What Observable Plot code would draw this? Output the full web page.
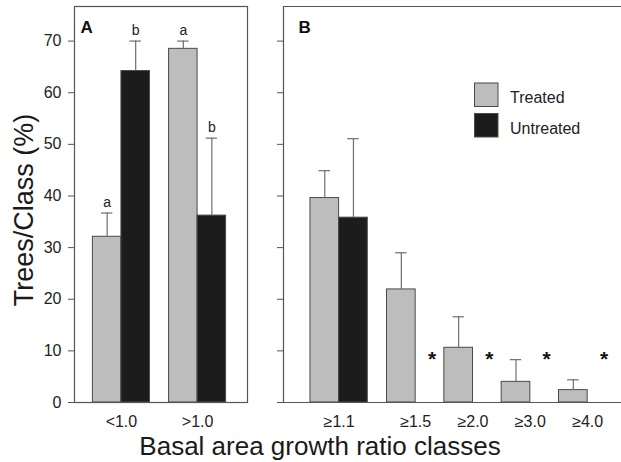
<!DOCTYPE html>
<html><head><meta charset="utf-8">
<script src="https://cdn.jsdelivr.net/npm/d3@7"></script>
<script src="https://cdn.jsdelivr.net/npm/@observablehq/plot@0.6"></script>
<style>
body{margin:0;background:#fff;}
#wrap{position:relative;width:621px;height:462px;overflow:hidden;font-family:"Liberation Sans",Arial,sans-serif;color:#1e1e1e;}
#wrap > *{position:absolute;top:0;}
</style></head><body><div id="wrap"></div>
<script>
// ---- data ----
const series = ["Treated", "Untreated"];
const seriesColors = ["#bdbdbd", "#1c1c1c"];
const yTicks = [0, 10, 20, 30, 40, 50, 60, 70];

const groupsA = ["<1.0", ">1.0"];
const treatedA = [32.1, 68.5];
const treatedA_se = [4.6, 1.5];
const untreatedA = [64.2, 36.2];
const untreatedA_se = [5.8, 15.0];
const lettersTreatedA = ["a", "a"];
const lettersUntreatedA = ["b", "b"];

const groupsB = ["≥1.1", "≥1.5", "≥2.0", "≥3.0", "≥4.0"];
const treatedB = [39.6, 21.9, 10.6, 4.0, 2.4];
const treatedB_se = [5.3, 7.1, 6.0, 4.3, 2.0];
const untreatedB = [35.8, null, null, null, null];
const untreatedB_se = [15.3, null, null, null, null];
const starLabel = "*";

// ---- layout helpers (bar-width units) ----
const GAP = 0.67;
const groupStart = i => 2 * i + (i > 0 ? GAP : 0);
function buildRows(groups, t, tse, u, use, lt, lu) {
  const rows = [];
  groups.forEach((g, i) => {
    const s = groupStart(i);
    rows.push({group: g, series: "Treated", value: t[i], se: tse[i], x1: s, x2: s + 1, xc: s + 0.5, letter: lt ? lt[i] : null});
    if (u[i] != null) rows.push({group: g, series: "Untreated", value: u[i], se: use[i], x1: s + 1, x2: s + 2, xc: s + 1.5, letter: lu ? lu[i] : null});
  });
  return rows;
}
const rowsA = buildRows(groupsA, treatedA, treatedA_se, untreatedA, untreatedA_se, lettersTreatedA, lettersUntreatedA);
const rowsB = buildRows(groupsB, treatedB, treatedB_se, untreatedB, untreatedB_se);
const starsB = groupsB.map((g, i) => ({group: g, x: groupStart(i) + 1.5, missing: untreatedB[i] == null})).filter(d => d.missing);
const STAR_LEVEL = 7;

const Y_MAX = 76.7;
const font = "Liberation Sans, Arial, sans-serif";
const ink = "#555";
const errInk = "#6e6e6e";

function barMarks(rows) {
  return [
    Plot.rect(rows, {x1: "x1", x2: "x2", y1: 0, y2: "value", fill: "series", stroke: "#4a4a4a", strokeWidth: 1}),
    Plot.ruleX(rows, {x: "xc", y1: "value", y2: d => d.value + d.se, stroke: errInk, strokeWidth: 1.2}),
    Plot.ruleY(rows, {y: d => d.value + d.se, x1: d => d.xc - 0.2, x2: d => d.xc + 0.2, stroke: errInk, strokeWidth: 1.2})
  ];
}

function ticksFor(groups) {
  const m = new Map(groups.map((g, i) => [groupStart(i) + 1, g]));
  return {values: [...m.keys()], format: v => m.get(v)};
}

const commonStyle = {fontFamily: font, fontSize: "16px", color: "#1e1e1e", background: "transparent", overflow: "visible"};
const colorScale = {domain: series, range: seriesColors};

// ---- Panel A ----
const tA = ticksFor(groupsA);
const plotA = Plot.plot({
  width: 250, height: 430,
  marginLeft: 74, marginRight: 3, marginTop: 6, marginBottom: 28,
  style: commonStyle,
  x: {domain: [-0.645, 5.42], axis: null},
  y: {domain: [0, Y_MAX], axis: null},
  color: colorScale,
  marks: [
    ...barMarks(rowsA),
    Plot.text(rowsA, {x: "xc", y: d => d.value + d.se, text: "letter", dy: -6, lineAnchor: "bottom", fontSize: 14, fill: "#222"}),
    Plot.frame({stroke: ink, strokeWidth: 1.2}),
    Plot.axisY({ticks: yTicks, tickSize: 6, tickPadding: 7, stroke: ink, fill: "#222", label: null}),
    Plot.axisX(tA.values, {tickSize: 0, tickPadding: 13, tickFormat: tA.format, fill: "#222", label: null}),
    Plot.text(["A"], {frameAnchor: "top-left", dx: 6, dy: 14, lineAnchor: "top", fontWeight: "bold", fontSize: 17, fill: "#111"})
  ]
});
plotA.style.left = "0px";

// ---- Panel B ----
const tB = ticksFor(groupsB);
const X_MIN_B = -0.94;
const plotB = Plot.plot({
  width: 381, height: 430,
  marginLeft: 43, marginRight: 0, marginTop: 6, marginBottom: 28,
  style: commonStyle,
  x: {domain: [X_MIN_B, 10.85], axis: null},
  y: {domain: [0, Y_MAX], axis: null},
  color: colorScale,
  marks: [
    ...barMarks(rowsB),
    Plot.text(starsB, {x: "x", y: STAR_LEVEL, text: () => starLabel, dx: 2, lineAnchor: "bottom", fontSize: 21, fontWeight: "bold", fill: "#111"}),
    Plot.ruleY([0, Y_MAX], {stroke: ink, strokeWidth: 1.2}),
    Plot.ruleX([X_MIN_B], {stroke: ink, strokeWidth: 1.2}),
    Plot.axisY({ticks: yTicks, tickSize: 6, tickFormat: () => "", stroke: ink, label: null}),
    Plot.axisX(tB.values, {tickSize: 0, tickPadding: 13, tickFormat: tB.format, fill: "#222", label: null}),
    Plot.text(["B"], {frameAnchor: "top-left", dx: 15, dy: 14, lineAnchor: "top", fontWeight: "bold", fontSize: 17, fill: "#111"})
  ]
});
plotB.style.left = "240px";

const wrap = document.getElementById("wrap");
wrap.appendChild(plotA);
wrap.appendChild(plotB);

// ---- titles & legend overlay ----
const svg = d3.create("svg").attr("width", 621).attr("height", 462)
  .style("pointer-events", "none").style("font-family", font);
svg.append("text").attr("transform", "translate(33,210) rotate(-90)")
  .attr("text-anchor", "middle").attr("font-size", 27).attr("fill", "#1a1a1a")
  .text("Trees/Class (%)");
svg.append("text").attr("x", 320).attr("y", 455)
  .attr("text-anchor", "middle").attr("font-size", 26).attr("fill", "#1a1a1a")
  .text("Basal area growth ratio classes");
const leg = svg.append("g").attr("transform", "translate(474.5,83)");
series.forEach((s, i) => {
  const g = leg.append("g").attr("transform", `translate(0,${i * 30.5})`);
  g.append("rect").attr("width", 23.5).attr("height", 23.5).attr("fill", seriesColors[i]).attr("stroke", "#4a4a4a");
  g.append("text").attr("x", 35.5).attr("y", 20).attr("font-size", 16).attr("fill", "#222").text(s);
});
wrap.appendChild(svg.node());
</script></body></html>
